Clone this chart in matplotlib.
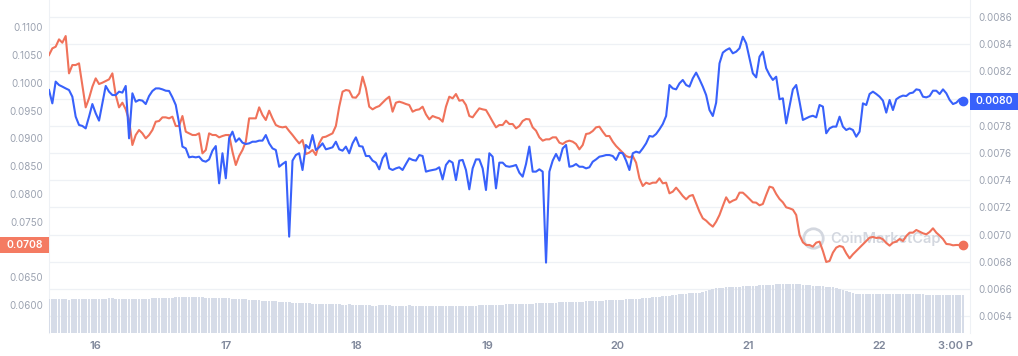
import numpy as np
import matplotlib
matplotlib.use('Agg')
import matplotlib.pyplot as plt
from matplotlib.patches import Rectangle

plt.rcParams['font.family'] = ['Inter', 'DejaVu Sans']

# price samples, 15th 15:30 -> 22nd 15:30 (even steps)
start_day = 15 + 15.5 / 24
end_day = 22 + 15.5 / 24

# left axis series (orange)
orange = [
    0.10501, 0.10621, 0.10651, 0.10783, 0.10723, 0.10843, 0.10171, 0.10321, 0.10321, 0.10351,
    0.09961, 0.09559, 0.09721, 0.09931, 0.10081, 0.09979, 0.10003, 0.10033, 0.10063, 0.10171,
    0.09781, 0.09559, 0.09643, 0.09523, 0.09331, 0.08881, 0.09061, 0.09151, 0.09091, 0.09001,
    0.09061, 0.09151, 0.09301, 0.09313, 0.09379, 0.09379, 0.09361, 0.09391, 0.09223, 0.09223,
    0.09403, 0.09121, 0.09091, 0.09061, 0.09061, 0.09091, 0.08731, 0.08791, 0.09091, 0.09061,
    0.09061, 0.09019, 0.09043, 0.09061, 0.09061, 0.08761, 0.08521, 0.08683, 0.08791, 0.08941,
    0.09361, 0.09361, 0.09361, 0.09559, 0.09421, 0.09331, 0.09499, 0.09361,
    0.09241, 0.09211, 0.09199, 0.09211, 0.09133, 0.09061, 0.08983, 0.08911, 0.08971, 0.08719,
    0.08743, 0.08791, 0.08701, 0.08911, 0.09019, 0.09031, 0.09061, 0.09091, 0.09223, 0.09571,
    0.09841, 0.09871, 0.09859, 0.09739, 0.09733, 0.09811, 0.10111, 0.09901, 0.09571, 0.09523,
    0.09559, 0.09583, 0.09643, 0.09703, 0.09751, 0.09481, 0.09643, 0.09661, 0.09643, 0.09619,
    0.09601, 0.09481, 0.09511, 0.09523, 0.09571, 0.09433, 0.09343, 0.09403, 0.09379, 0.09361,
    0.09301, 0.09571, 0.09751, 0.09721, 0.09799, 0.09679, 0.09691, 0.09601, 0.09403, 0.09379,
    0.09463, 0.09541, 0.09523, 0.09511, 0.09409, 0.09301, 0.09199, 0.09241, 0.09241,
    0.09319, 0.09259, 0.09259, 0.09181, 0.09223, 0.09313, 0.09349, 0.09343, 0.09199, 0.09139,
    0.09019, 0.08959, 0.08983, 0.08983, 0.09019, 0.09019, 0.08923, 0.08899, 0.08941, 0.08959,
    0.08941, 0.08899, 0.08803, 0.08881, 0.09079, 0.09091, 0.09133, 0.09199, 0.09211, 0.09121,
    0.09043, 0.09043, 0.08941, 0.08863, 0.08803, 0.08743, 0.08683, 0.08659, 0.08683, 0.08563,
    0.08281, 0.08143, 0.08203, 0.08179, 0.08203, 0.08203, 0.08281, 0.08191, 0.08203, 0.08011,
    0.08041, 0.08113, 0.08041, 0.07963, 0.07903, 0.07963, 0.07981, 0.07831, 0.07681, 0.07561,
    0.07519, 0.07459, 0.07411, 0.07501, 0.07621, 0.07783, 0.07939, 0.07843, 0.07879,
    0.07903, 0.08023, 0.08023, 0.07969, 0.07909, 0.07849, 0.07843, 0.07795, 0.07819, 0.07981,
    0.08131, 0.08113, 0.07999, 0.07909, 0.07849, 0.07759, 0.07741, 0.07717, 0.07621, 0.07261,
    0.07129, 0.07081, 0.07081, 0.07051, 0.07123, 0.07141, 0.06973, 0.06775, 0.06793, 0.06943,
    0.07033, 0.07063, 0.07045, 0.06931, 0.06841, 0.06913, 0.06973, 0.07033, 0.07093, 0.07153,
    0.07213, 0.07225, 0.07207, 0.07213, 0.07183, 0.07117, 0.07069, 0.07123, 0.07141, 0.07189,
    0.07153, 0.07243, 0.07303, 0.07303, 0.07351, 0.07321, 0.07291, 0.07273, 0.07315, 0.07381,
    0.07303, 0.07249, 0.07189, 0.07099, 0.07093, 0.07075, 0.07081, 0.07081, 0.07081,
]

# right axis series (blue)
blue = [
    0.008063, 0.007965, 0.008125, 0.008100, 0.008088, 0.008075, 0.008063, 0.008014, 0.007867, 0.007806,
    0.007799, 0.007781, 0.007867, 0.007960, 0.007892, 0.007838, 0.007965, 0.008093, 0.008051, 0.008026,
    0.008026, 0.008051, 0.008044, 0.008093, 0.007708, 0.008039, 0.007977, 0.007990, 0.007985, 0.007960,
    0.008019, 0.008056, 0.008075, 0.008075, 0.008068, 0.008058, 0.008056, 0.008009, 0.007953, 0.007818,
    0.007647, 0.007634, 0.007568, 0.007573, 0.007568, 0.007573, 0.007544, 0.007536, 0.007553, 0.007617,
    0.007651, 0.007377, 0.007598, 0.007414, 0.007708, 0.007757, 0.007683, 0.007708, 0.007676, 0.007666,
    0.007671, 0.007683, 0.007683, 0.007691, 0.007691, 0.007732, 0.007671, 0.007634,
    0.007622, 0.007499, 0.007519, 0.007536, 0.006985, 0.007544, 0.007585, 0.007598, 0.007475, 0.007659,
    0.007634, 0.007732, 0.007622, 0.007642, 0.007671, 0.007627, 0.007634, 0.007642, 0.007683, 0.007627,
    0.007617, 0.007647, 0.007598, 0.007671, 0.007715, 0.007651, 0.007647, 0.007578, 0.007578, 0.007544,
    0.007529, 0.007480, 0.007561, 0.007598, 0.007487, 0.007475, 0.007487, 0.007495, 0.007475, 0.007519,
    0.007561, 0.007549, 0.007544, 0.007585, 0.007578, 0.007463, 0.007470, 0.007475, 0.007480, 0.007495,
    0.007406, 0.007512, 0.007544, 0.007529, 0.007401, 0.007544, 0.007549, 0.007475, 0.007333, 0.007487,
    0.007553, 0.007553, 0.007487, 0.007328, 0.007598, 0.007573, 0.007340, 0.007529, 0.007529,
    0.007504, 0.007499, 0.007504, 0.007512, 0.007455, 0.007426, 0.007519, 0.007647, 0.007463, 0.007463,
    0.007480, 0.007463, 0.006794, 0.007463, 0.007544, 0.007593, 0.007544, 0.007634, 0.007659, 0.007499,
    0.007504, 0.007519, 0.007499, 0.007499, 0.007487, 0.007495, 0.007536, 0.007553, 0.007573, 0.007578,
    0.007585, 0.007585, 0.007578, 0.007549, 0.007602, 0.007598, 0.007544, 0.007475, 0.007598, 0.007610,
    0.007602, 0.007634, 0.007671, 0.007725, 0.007720, 0.007740, 0.007774, 0.007813, 0.007872, 0.008100,
    0.008075, 0.008068, 0.008112, 0.008137, 0.008100, 0.008088, 0.008149, 0.008191, 0.008142, 0.008088,
    0.008026, 0.007916, 0.007872, 0.007970, 0.008259, 0.008338, 0.008357, 0.008370, 0.008333,
    0.008345, 0.008370, 0.008455, 0.008406, 0.008296, 0.008186, 0.008156, 0.008308, 0.008345, 0.008223,
    0.008174, 0.008137, 0.008161, 0.007995, 0.008002, 0.007818, 0.007941, 0.008068, 0.008100, 0.007977,
    0.007843, 0.007855, 0.007867, 0.007874, 0.007862, 0.007953, 0.007941, 0.007745, 0.007781, 0.007794,
    0.007794, 0.007867, 0.007794, 0.007769, 0.007781, 0.007769, 0.007720, 0.007757, 0.007965, 0.007953,
    0.008034, 0.008051, 0.008034, 0.008014, 0.007985, 0.007897, 0.007990, 0.007916, 0.007995, 0.008012,
    0.008022, 0.008019, 0.008039, 0.008044, 0.008068, 0.008063, 0.008014, 0.008009, 0.008019, 0.008058,
    0.008058, 0.008034, 0.008068, 0.008039, 0.007990, 0.007960, 0.007970, 0.007995, 0.007982,
]

# volume bars (arbitrary units)
volume = [
    6.8, 6.9, 6.8, 6.8, 6.8, 6.8, 6.7, 6.8, 6.8, 6.8, 6.8, 6.8, 6.9, 6.9,
    6.9, 6.9, 6.9, 6.9, 7.0, 7.0, 6.9, 6.9, 6.9, 6.9, 6.9, 6.9, 6.9, 6.9, 6.9, 6.8, 6.9,
    7.0, 7.0, 7.0, 7.1, 7.1, 7.1, 7.1, 7.2, 7.2, 7.3, 7.3, 7.3, 7.3, 7.2,
    7.2, 7.2, 7.1, 7.1, 7.1, 7.0, 7.0, 7.0, 7.0,
    7.0, 6.9, 6.9, 6.9, 6.8, 6.8, 6.7, 6.7, 6.6, 6.6,
    6.5, 6.5, 6.5, 6.4, 6.4, 6.3, 6.3, 6.2, 6.2, 6.1, 6.1, 6.0,
    6.0, 6.1, 6.0, 5.9, 5.9, 5.9, 5.8, 5.8, 5.8, 5.8, 5.8, 5.8,
    5.7, 5.7, 5.8, 5.7, 5.6, 5.6, 5.6, 5.6, 5.6, 5.5, 5.5, 5.6, 5.6,
    5.6, 5.6, 5.5, 5.5, 5.5, 5.5, 5.5, 5.6, 5.5, 5.5, 5.5, 5.4, 5.4, 5.4, 5.4, 5.4, 5.4, 5.4, 5.4, 5.4,
    5.4, 5.4, 5.4, 5.5, 5.5, 5.5, 5.5, 5.5, 5.6, 5.6, 5.6, 5.6, 5.6, 5.7, 5.7,
    5.7, 5.8, 5.8, 5.8, 5.8, 5.9, 5.9, 5.9, 5.9, 5.9, 6.0, 6.0, 6.0, 6.0, 6.1,
    6.1, 6.1, 6.2, 6.2, 6.2, 6.2, 6.3, 6.3, 6.3, 6.3, 6.4, 6.4, 6.4, 6.5, 6.5,
    6.5, 6.6, 6.6, 6.6, 6.7, 6.7, 6.7, 6.8, 6.8, 6.8, 6.9, 6.9, 7.0, 7.0, 7.1,
    7.2, 7.3, 7.3, 7.4, 7.5, 7.5, 7.6, 7.7, 7.8, 7.9, 7.9, 8.0, 8.1, 8.1, 8.1,
    8.3, 8.5, 8.6, 8.8, 9.0, 9.1, 9.1, 9.2, 9.2, 9.3, 9.3, 9.3, 9.4, 9.4, 9.4,
    9.5, 9.5, 9.6, 9.6, 9.7, 9.7, 9.7, 9.8, 9.8, 9.9, 9.9, 9.9, 9.9, 9.8, 9.8,
    9.7, 9.6, 9.6, 9.5, 9.5, 9.5, 9.4, 9.3, 9.3, 9.2, 9.0, 8.9, 8.7, 8.5, 8.3,
    8.0, 7.9, 7.9, 7.9, 7.9, 7.8, 7.8, 7.8, 7.8, 7.8, 7.8, 7.8, 7.8, 7.8, 7.9,
    7.9, 7.9, 7.9, 7.8, 7.8, 7.8, 7.8, 7.7, 7.7, 7.7, 7.7, 7.7, 7.7, 7.7, 7.7, 7.7, 7.7, 7.7, 7.7,
]

left_ticks = [0.0600, 0.0650, 0.0750, 0.0800, 0.0850, 0.0900, 0.0950, 0.1000, 0.1050, 0.1100]
right_ticks = [0.0064, 0.0066, 0.0068, 0.0070, 0.0072, 0.0074, 0.0076, 0.0078, 0.0080,
               0.0082, 0.0084, 0.0086]
day_ticks = [16, 17, 18, 19, 20, 21, 22, 22.585]
day_labels = ['16', '17', '18', '19', '20', '21', '22', '3:00 P']

c_orange = '#f0725a'
c_blue = '#3861fb'
c_box_orange = '#f47b62'
c_grid = '#eef1f5'
c_bar = '#d6dce8'
c_tick = '#9ba2b0'
c_wm = '#d3d7df'

n = min(len(orange), len(blue), len(volume))
orange = orange[:n]
blue = blue[:n]
volume = volume[:n]
t = np.linspace(start_day, end_day, n)

fig = plt.figure(figsize=(10.18, 3.56), dpi=100, facecolor='white')
pos = [49 / 1018, 1 - 333 / 356, 921 / 1018, 333 / 356]

# base axes: right scale, grid, x labels
ax_r = fig.add_axes(pos)
ax_r.set_xlim(t[0], t[-1] + 7 / 130.5)
ax_r.set_ylim(0.0062765, 0.008725)
ax_r.yaxis.tick_right()
ax_r.set_yticks(right_ticks)
ax_r.set_yticklabels(['' if abs(v - 0.0080) < 1e-9 else f'{v:.4f}' for v in right_ticks])
ax_r.tick_params(axis='y', length=0, pad=5.8, labelsize=7, labelcolor=c_tick)
ax_r.grid(axis='y', color=c_grid, lw=0.9)
ax_r.set_xticks(day_ticks)
ax_r.set_xticklabels(day_labels)
ax_r.tick_params(axis='x', length=0, pad=6, labelsize=8, labelcolor='#7f879a')
for lbl in ax_r.get_xticklabels():
    lbl.set_fontweight('semibold')
for s in ['top', 'bottom']:
    ax_r.spines[s].set_visible(False)
for s in ['left', 'right']:
    ax_r.spines[s].set_color(c_grid)

# volume bars
ax_b = fig.add_axes(pos, sharex=ax_r)
ax_b.set_facecolor('none')
ax_b.bar(t, volume, width=0.8 * (t[1] - t[0]), color=c_bar, linewidth=0)
ax_b.set_ylim(0, 66.6)
ax_b.axis('off')

# watermark
ax_b.plot([(813 - 49) / 921], [(333 - 238) / 333], marker='o', ms=14, mfc='none', mew=2,
          color=c_wm, transform=ax_b.transAxes)
ax_b.text((830 - 49) / 921, (333 - 239) / 333, 'CoinMarketCap', transform=ax_b.transAxes,
          ha='left', va='center', fontsize=10.5, fontweight='semibold', color=c_wm)

# orange on the left scale
ax_l = fig.add_axes(pos, sharex=ax_r)
ax_l.set_facecolor('none')
ax_l.plot(t, orange, color=c_orange, lw=1.5)
ax_l.plot(t[-1], orange[-1], 'o', ms=6, color=c_orange)
ax_l.set_ylim(0.05496, 0.11492)
ax_l.set_yticks(left_ticks)
ax_l.set_yticklabels([f'{v:.4f}' for v in left_ticks])
ax_l.tick_params(axis='y', length=0, pad=4.3, labelsize=7, labelcolor=c_tick)
ax_l.tick_params(axis='x', bottom=False, labelbottom=False)
for s in ax_l.spines.values():
    s.set_visible(False)

# blue on top, right scale
ax_t = fig.add_axes(pos, sharex=ax_r, sharey=ax_r)
ax_t.set_facecolor('none')
ax_t.plot(t, blue, color=c_blue, lw=1.5)
ax_t.plot(t[-1], blue[-1], 'o', ms=6, color=c_blue)
ax_t.axis('off')

# last price boxes
fig.add_artist(Rectangle((0, 1 - 253 / 356), 49 / 1018, 16 / 356, transform=fig.transFigure,
                         facecolor=c_box_orange, edgecolor='none', zorder=5))
fig.text(24.5 / 1018, 1 - 245 / 356, f'{orange[-1]:.4f}', ha='center', va='center',
         color='white', fontsize=7.5, fontweight='semibold', zorder=6)
fig.add_artist(Rectangle((970 / 1018, 1 - 110 / 356), 48 / 1018, 17 / 356, transform=fig.transFigure,
                         facecolor=c_blue, edgecolor='none', zorder=5))
fig.text(994 / 1018, 1 - 101.5 / 356, f'{blue[-1]:.4f}', ha='center', va='center',
         color='white', fontsize=7.5, fontweight='semibold', zorder=6)

fig.savefig('out.png', dpi=100, facecolor='white')
